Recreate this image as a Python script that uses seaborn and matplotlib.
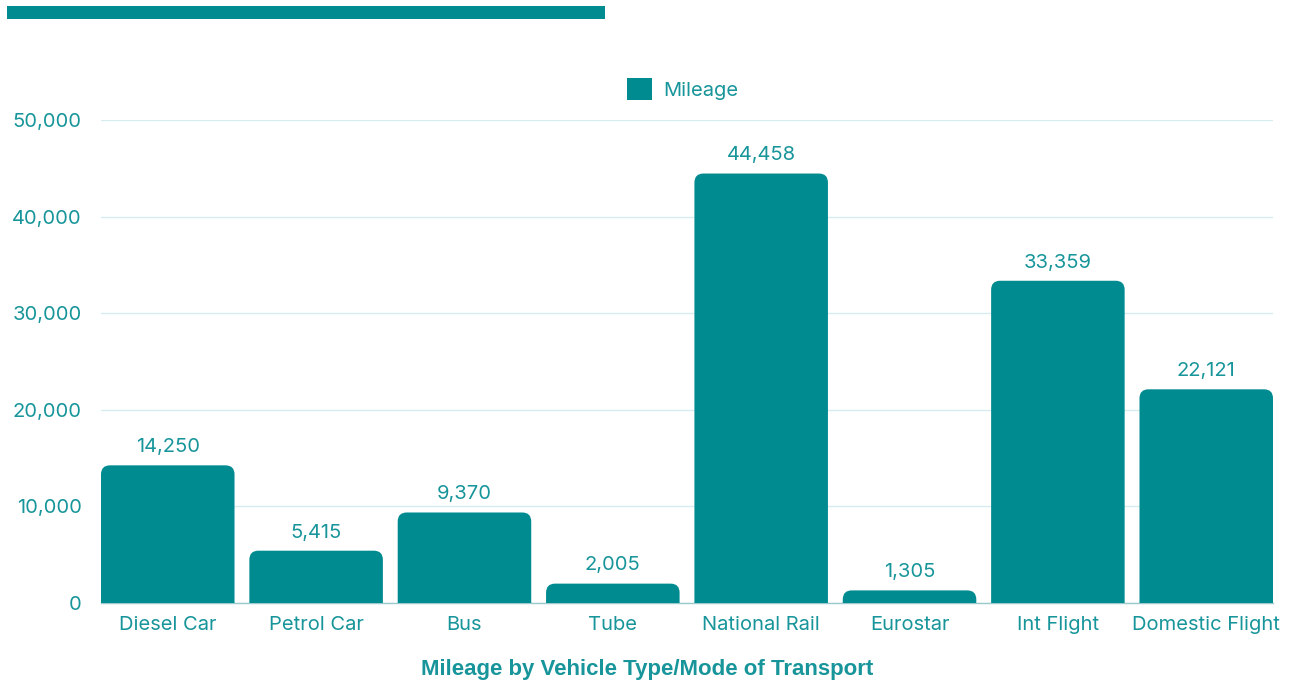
import matplotlib
matplotlib.use("Agg")
import matplotlib.pyplot as plt
from matplotlib.patches import FancyBboxPatch, Rectangle
from matplotlib.ticker import FuncFormatter
import seaborn as sns
import pandas as pd

categories = ["Diesel Car", "Petrol Car", "Bus", "Tube", "National Rail",
              "Eurostar", "Int Flight", "Domestic Flight"]
mileage = [14250, 5415, 9370, 2005, 44458, 1305, 33359, 22121]
y_ticks = [0, 10000, 20000, 30000, 40000, 50000]
series_name = "Mileage"
x_title = "Mileage by Vehicle Type/Mode of Transport"

TEAL = "#008B91"
TEXT = "#17959A"
GRID = "#D6ECEE"
BAR_W = 0.9
FS = 14.5

sns.set_theme(style="white")
plt.rcParams["font.family"] = ["Inter", "DejaVu Sans"]

df = pd.DataFrame({"category": categories, "value": mileage})

fig = plt.figure(figsize=(12.92, 6.81), dpi=100)
ax = fig.add_axes([101 / 1292, 1 - 603 / 681, (1273 - 101) / 1292, (603 - 120) / 681])

sns.barplot(data=df, x="category", y="value", color=TEAL, width=BAR_W,
            saturation=1, ax=ax, zorder=3)
ax.set_xlim(-BAR_W / 2, len(categories) - 1 + BAR_W / 2)
ax.set_ylim(0, 50000)

# swap the square bars for ones with rounded top corners
bbox = ax.get_position()
fig_w, fig_h = fig.get_size_inches() * fig.dpi
px_per_x = bbox.width * fig_w / (ax.get_xlim()[1] - ax.get_xlim()[0])
px_per_y = bbox.height * fig_h / (ax.get_ylim()[1] - ax.get_ylim()[0])
aspect = px_per_x / px_per_y
radius_px = 9
r_x = radius_px / px_per_x
for p, val in zip(list(ax.patches), mileage):
    x0, w = p.get_x(), p.get_width()
    p.remove()
    extra = radius_px / px_per_y
    rb = FancyBboxPatch((x0, -extra), w, val + extra,
                        boxstyle=f"round,pad=0,rounding_size={r_x}",
                        mutation_aspect=aspect, facecolor=TEAL,
                        edgecolor="none", zorder=3)
    ax.add_patch(rb)
    ax.text(x0 + w / 2, val + 950, f"{val:,}", ha="center", va="bottom",
            fontsize=FS, color=TEXT, zorder=4)

ax.set_yticks(y_ticks)
ax.yaxis.set_major_formatter(FuncFormatter(lambda v, _: f"{int(v):,}"))
ax.grid(axis="y", color=GRID, linewidth=1, zorder=0)
ax.grid(axis="x", visible=False)
for s in ["top", "right", "left"]:
    ax.spines[s].set_visible(False)
ax.spines["bottom"].set_color("#9CC9CC")
ax.spines["bottom"].set_linewidth(1)
ax.spines["bottom"].set_zorder(2)
ax.tick_params(axis="y", length=0, pad=14, labelsize=FS, labelcolor=TEXT)
ax.tick_params(axis="x", length=0, pad=9, labelsize=FS, labelcolor=TEXT)
ax.set_xlabel("")
ax.set_ylabel("")

# legend
handle = Rectangle((0, 0), 1, 1, facecolor=TEAL, edgecolor="none")
leg = fig.legend([handle], [series_name], loc="center", bbox_to_anchor=(683 / 1292, 1 - 89 / 681),
                 frameon=False, fontsize=FS, handlelength=1.25, handleheight=1.25,
                 handletextpad=0.55)
for t in leg.get_texts():
    t.set_color(TEXT)

fig.text(647 / 1292, 1 - 669 / 681, x_title, ha="center", va="center",
         fontsize=16, fontweight="bold", color=TEXT,
         family=["Liberation Sans", "DejaVu Sans"])

# header strip
fig.patches.append(Rectangle((7 / 1292, 1 - 19 / 681), (605 - 7) / 1292, 13 / 681,
                             transform=fig.transFigure, facecolor=TEAL,
                             edgecolor="none"))

fig.savefig("out.png", dpi=100)
